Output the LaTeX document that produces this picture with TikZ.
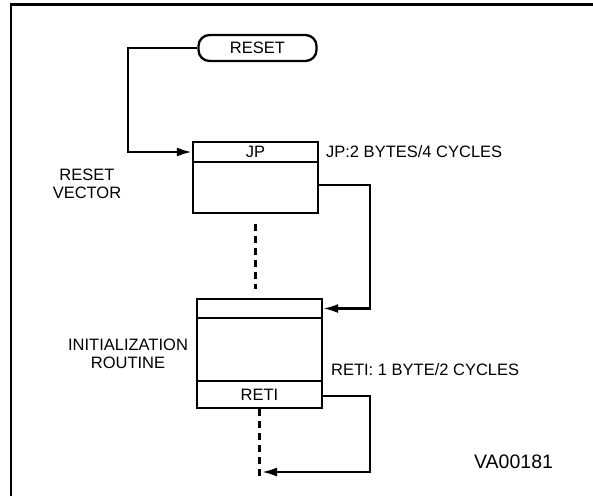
\documentclass[tikz,border=0pt]{standalone}
\usepackage{fontspec}
\setmainfont{Liberation Sans}
\usetikzlibrary{arrows.meta}
\begin{document}
\begin{tikzpicture}[x=1pt,y=-1pt,
  line width=2.3pt,
  lbl/.style={font=\fontsize{16.5}{18}\selectfont, inner sep=0pt, align=center},
  cell/.style={draw, line width=2.3pt, inner sep=0pt, minimum width=125pt, font=\fontsize{16.5}{18}\selectfont},
  term/.style={draw, rounded corners=11pt, line width=2.3pt, minimum width=118pt, minimum height=26pt, inner sep=0pt, font=\fontsize{16.5}{18}\selectfont},
  arr/.style={-{Latex[length=15pt,width=9pt]}, line width=2.3pt},
  dsh/.style={line width=2.3pt, dash pattern=on 7pt off 5pt}
]
\useasboundingbox (0,0) rectangle (593,496);
% frame
\draw[line width=2.5pt] (11,496) -- (11,4.5) -- (593,4.5);

% nodes
\node[term] (reset) at (257.5,48) {RESET};
\node[cell, minimum height=20pt] (jptop) at (255.5,152) {JP};
\node[cell, minimum height=51pt] (jpbody) at (255.5,187.5) {};
\node[cell, minimum height=19pt] (btop) at (259.5,308.5) {};
\node[cell, minimum height=63pt] (bmid) at (259.5,349.5) {};
\node[cell, minimum height=27pt] (reti) at (259.5,394.5) {RETI};

% labels
\node[lbl] (lrv) at (87,184) {RESET\\VECTOR};
\node[lbl] (lir) at (128,354) {INITIALIZATION\\ROUTINE};
\node[lbl, anchor=west] (ljp) at (325,152) {JP:2 BYTES/4 CYCLES};
\node[lbl, anchor=west] (lreti) at (330,370) {RETI: 1 BYTE/2 CYCLES};
\node[inner sep=0pt, anchor=west, font=\fontsize{19.5}{22}\selectfont] (va) at (473,462) {VA00181};

% connectors
\coordinate (c1) at (128,48);
\draw[arr] (reset.west) -- (c1) |- (jptop.west);
\coordinate (c2) at (370,185);
\draw[arr] (jpbody.east |- c2) -- (c2) |- (btop.east);
\coordinate (c3) at (370,396);
\coordinate (endpt) at (262,472);
\draw[arr] (reti.east |- c3) -- (c3) |- (endpt);

% dashed continuation lines
\draw[dsh] ([yshift=-10pt]jpbody.south) -- ++(0,65);
\coordinate (dend) at (259.5,476);
\draw[dsh] (reti.south) -- (dend);
\end{tikzpicture}
\end{document}
